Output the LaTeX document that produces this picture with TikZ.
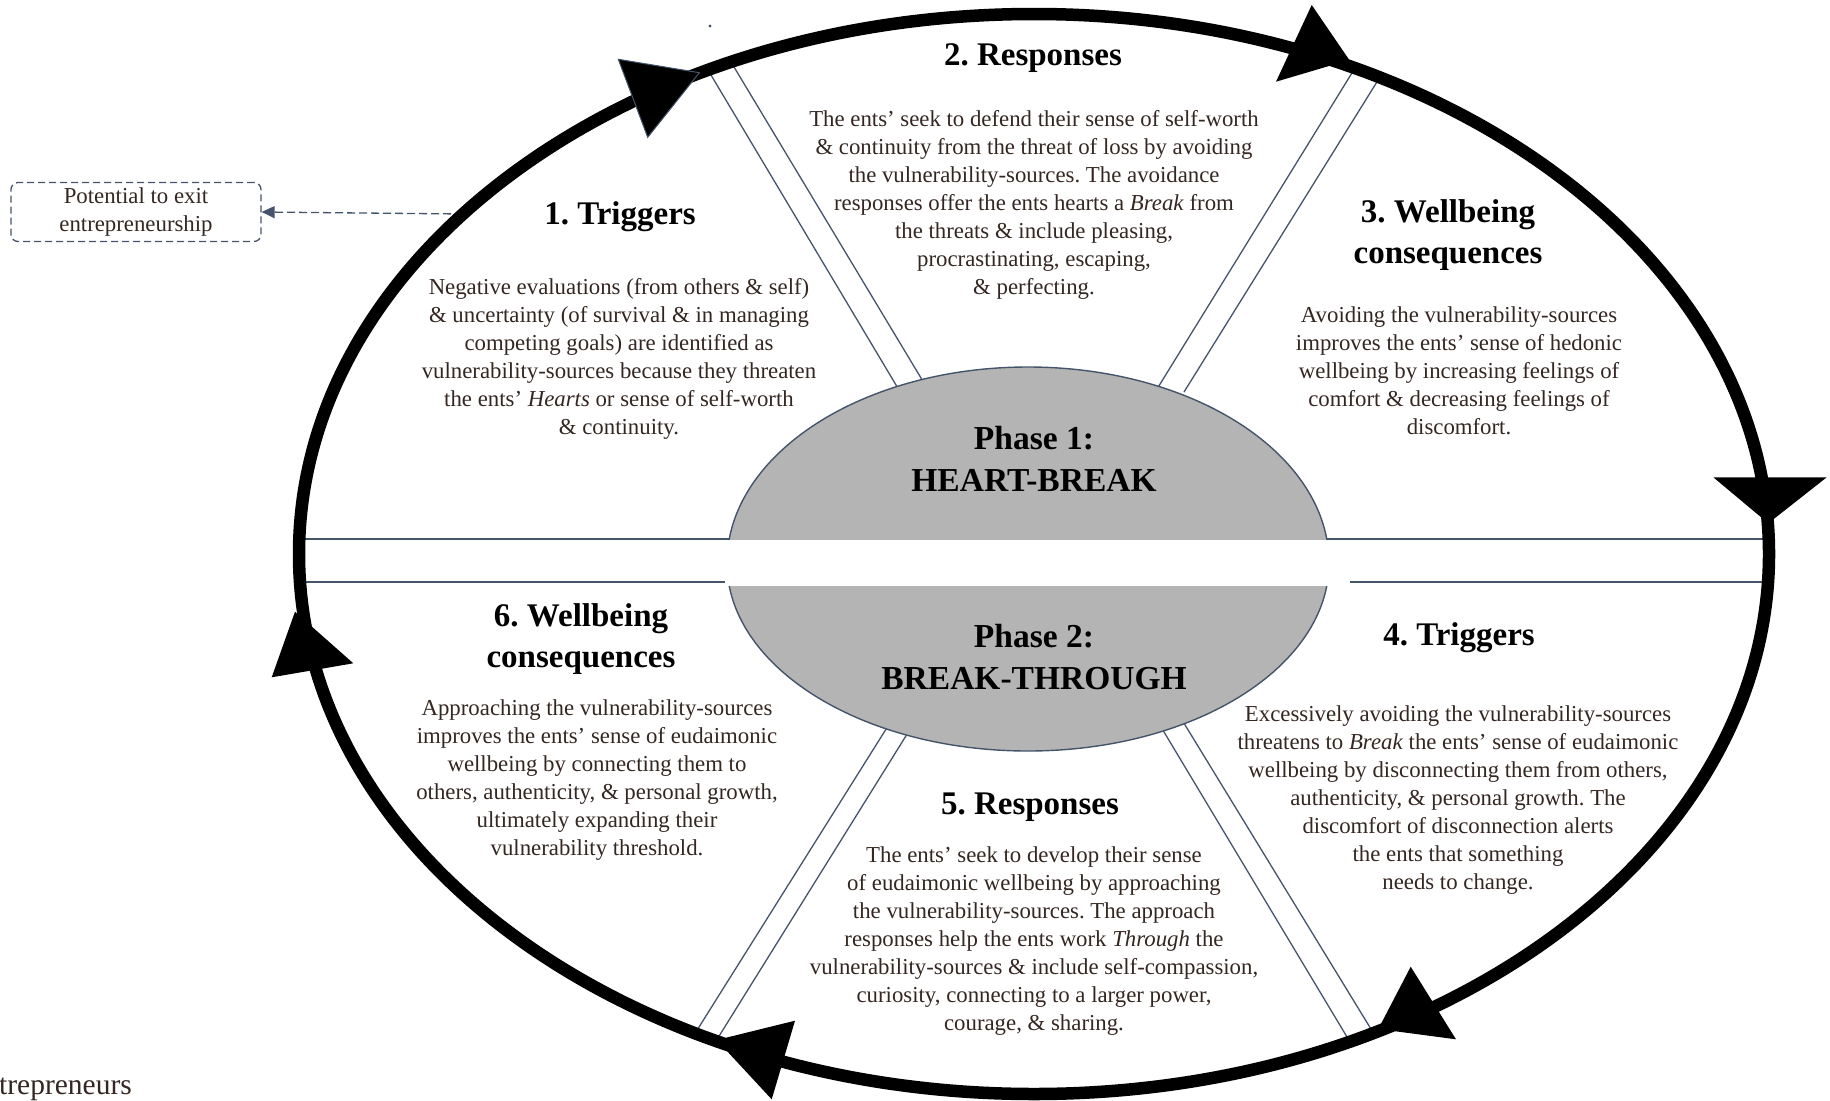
\documentclass[tikz,border=0pt]{standalone}
\usepackage{fontspec}
\setmainfont{Liberation Serif}
\usetikzlibrary{arrows.meta}
\definecolor{rimblue}{RGB}{68,84,106}
\definecolor{phasegray}{RGB}{180,180,180}
\definecolor{bodyink}{RGB}{52,38,33}
\frenchspacing

\begin{document}
\begin{tikzpicture}[x=1pt,y=-1pt,
  divider/.style={draw=rimblue,line width=1.3pt},
  cyclering/.style={draw=black,line width=12.5pt},
  cyclehead/.style={fill=black},
  phasecap/.style={fill=phasegray,draw=rimblue,line width=1.4pt},
  headtext/.style={font=\fontsize{33}{41}\selectfont\bfseries,align=center,text=black,inner sep=0pt},
  phasetext/.style={font=\fontsize{33.5}{42}\selectfont\bfseries,align=center,text=black,inner sep=0pt},
  bodytext/.style={font=\fontsize{22.8}{28}\selectfont,align=center,text=bodyink,inner sep=0pt},
  exitstyle/.style={draw=rimblue,line width=1.3pt,dash pattern=on 7pt off 4pt,rounded corners=7pt,
    minimum width=250pt,minimum height=59pt,inner sep=0pt,align=center,
    font=\fontsize{22.8}{28}\selectfont,text=bodyink},
  exitlink/.style={draw=rimblue,line width=1.3pt,dash pattern=on 8pt off 4pt,
    -{Triangle[length=13pt,width=12pt]}}
]
\useasboundingbox (0,0) rectangle (1830,1100);

% sector dividers: horizontal pairs
\draw[divider] (299,539) -- (729,539);
\draw[divider] (299,582) -- (725,582);
\draw[divider] (1327,539) -- (1768,539);
\draw[divider] (1350,582) -- (1768,582);
% sector dividers: slanted pairs
\draw[divider] (708,70) -- (899,390);
\draw[divider] (731,62) -- (924,383);
\draw[divider] (1355,68) -- (1157,389);
\draw[divider] (1380,77) -- (1184,392);
\draw[divider] (1350,1042) -- (1161,727);
\draw[divider] (1374,1034) -- (1182,720);
\draw[divider] (694,1035) -- (888,726);
\draw[divider] (716,1041) -- (909,731);

% central phase ellipse, split by a white band
\begin{scope}
  \clip (0,0) rectangle (1830,539);
  \path[phasecap] (1028,563) ellipse [x radius=301pt, y radius=196pt];
\end{scope}
\begin{scope}
  \clip (0,586) rectangle (1830,1100);
  \path[phasecap] (1028,563) ellipse [x radius=301pt, y radius=188pt];
\end{scope}

% exit note and its dashed link
\node[exitstyle] (exitbox) at (136,212) {Potential to exit\\entrepreneurship};
\coordinate (ringexit) at (463,214);
\draw[exitlink] (ringexit) -- (exitbox.east);

% outer cycle
\draw[cyclering] (1034,554) ellipse [x radius=735pt, y radius=540pt];

% direction heads on the cycle
\filldraw[cyclehead,draw=rimblue,line width=1pt] (618.3,59.3) -- (699.3,72.7) -- (647.7,137.3) -- cycle;
\fill[cyclehead] (1311.7,5) -- (1349.3,60) -- (1276,81.7) -- cycle;
\fill[cyclehead] (1713.3,477.3) -- (1826.7,477.3) -- (1768.3,523.3) -- cycle;
\fill[cyclehead] (1410.7,966.7) -- (1456,1039.3) -- (1378.3,1029) -- cycle;
\fill[cyclehead] (795,1020.7) -- (771.7,1099.3) -- (716.7,1040) -- cycle;
\fill[cyclehead] (295,611.7) -- (353.3,663.3) -- (271.7,677.3) -- cycle;

% phase labels
\node[phasetext] (phaseone) at (1034,458.5) {Phase 1:\\HEART-BREAK};
\node[phasetext] (phasetwo) at (1034,657.5) {Phase 2:\\BREAK-THROUGH};

% sector headings
\node[headtext] (headone) at (620,217) {1. Triggers};
\node[headtext] (headtwo) at (1033,58) {2. Responses};
\node[headtext] (headthree) at (1448,235) {3. Wellbeing\\consequences};
\node[headtext] (headfour) at (1459,638) {4. Triggers};
\node[headtext] (headfive) at (1030,807) {5. Responses};
\node[headtext] (headsix) at (581,639) {6. Wellbeing\\consequences};

% sector descriptions
\node[bodytext] (textone) at (619,359) {Negative evaluations (from others \& self)\\
\& uncertainty (of survival \& in managing\\
competing goals) are identified as\\
vulnerability-sources because they threaten\\
the ents’ \textit{Hearts} or sense of self-worth\\
\& continuity.};

\node[bodytext] (texttwo) at (1034,205) {The ents’ seek to defend their sense of self-worth\\
\& continuity from the threat of loss by avoiding\\
the vulnerability-sources. The avoidance\\
responses offer the ents hearts a \textit{Break} from\\
the threats \& include pleasing,\\
procrastinating, escaping,\\
\& perfecting.};

\node[bodytext] (textthree) at (1459,371) {Avoiding the vulnerability-sources\\
improves the ents’ sense of hedonic\\
wellbeing by increasing feelings of\\
comfort \& decreasing feelings of\\
discomfort.};

\node[bodytext] (textfour) at (1458,800) {Excessively avoiding the vulnerability-sources\\
threatens to \textit{Break} the ents’ sense of eudaimonic\\
wellbeing by disconnecting them from others,\\
authenticity, \& personal growth. The\\
discomfort of disconnection alerts\\
the ents that something\\
needs to change.};

\node[bodytext] (textfive) at (1034,941) {The ents’ seek to develop their sense\\
of eudaimonic wellbeing by approaching\\
the vulnerability-sources. The approach\\
responses help the ents work \textit{Through} the\\
vulnerability-sources \& include self-compassion,\\
curiosity, connecting to a larger power,\\
courage, \& sharing.};

\node[bodytext] (textsix) at (597,780) {Approaching the vulnerability-sources\\
improves the ents’ sense of eudaimonic\\
wellbeing by connecting them to\\
others, authenticity, \& personal growth,\\
ultimately expanding their\\
vulnerability threshold.};

% clipped caption fragment and stray mark
\node[bodytext,anchor=west,font=\fontsize{29.5}{34}\selectfont] (capfrag) at (-1,1089) {trepreneurs};
\fill[rimblue] (710,26) circle [radius=1.6pt];
\end{tikzpicture}
\end{document}
